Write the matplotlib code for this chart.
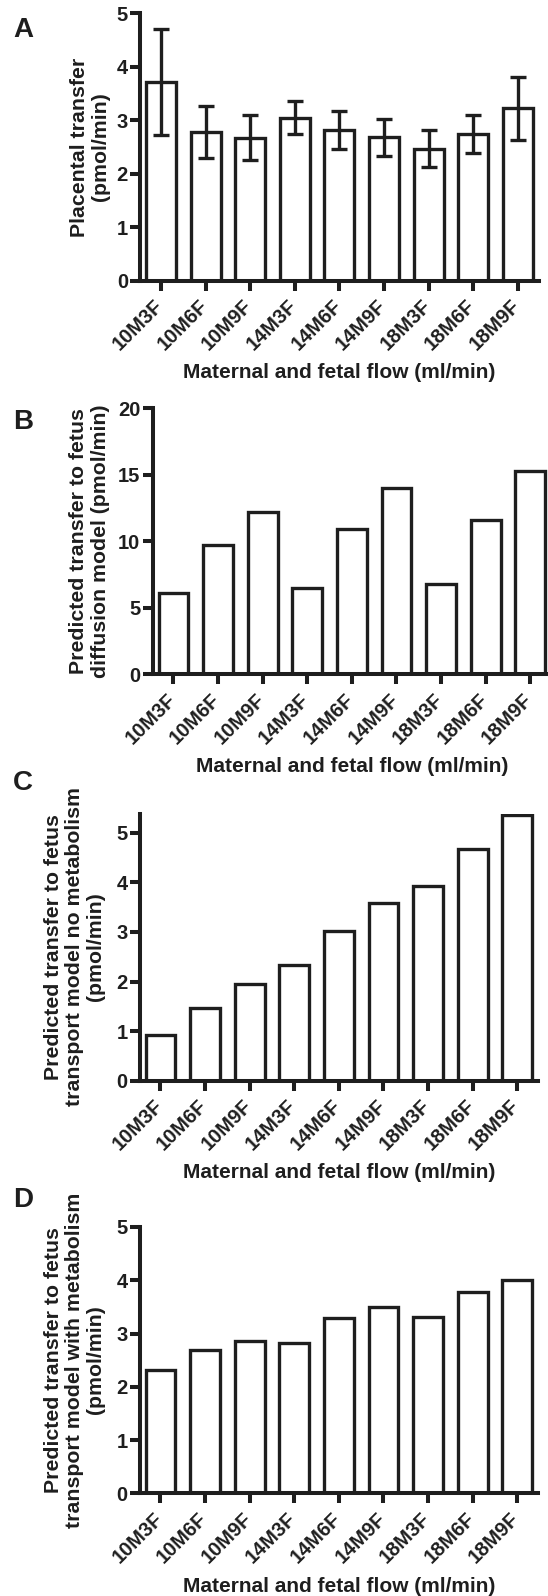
#!/usr/bin/env python3
"""Four stacked bar panels: placental transfer vs maternal/fetal flow."""

import matplotlib

matplotlib.use("Agg")
import matplotlib.pyplot as plt
import matplotlib.transforms as mtransforms

categories = ["10M3F", "10M6F", "10M9F", "14M3F", "14M6F", "14M9F", "18M3F", "18M6F", "18M9F"]

placental_mean = [3.72, 2.78, 2.67, 3.05, 2.82, 2.68, 2.47, 2.74, 3.22]
placental_err = [0.99, 0.48, 0.42, 0.31, 0.35, 0.34, 0.35, 0.36, 0.59]
diffusion_model = [6.1, 9.75, 12.2, 6.5, 10.9, 14.0, 6.8, 11.6, 15.3]
transport_no_met = [0.93, 1.46, 1.96, 2.34, 3.01, 3.58, 3.92, 4.68, 5.35]
transport_with_met = [2.31, 2.69, 2.86, 2.82, 3.29, 3.50, 3.31, 3.78, 4.01]

xlabel = "Maternal and fetal flow (ml/min)"
ylabels = [
    "Placental transfer\n(pmol/min)",
    "Predicted transfer to fetus\ndiffusion model (pmol/min)",
    "Predicted transfer to fetus\ntransport model no metabolism\n(pmol/min)",
    "Predicted transfer to fetus\ntransport model with metabolism\n(pmol/min)",
]
letters = ["A", "B", "C", "D"]

W, H = 548, 1596
INK = "#1e1e1e"

plt.rcParams["font.family"] = ["Liberation Sans", "DejaVu Sans"]
plt.rcParams["font.weight"] = "bold"

fig = plt.figure(figsize=(W / 100, H / 100), dpi=100)

XLO, XHI = -0.47, 8.47
STEP = 44.6  # px per category


def fx(x):
    return x / W


def fy(y):
    return 1 - y / H


# (left px, top px, zero px, ymax, yticks, values, errors, ylabel pos, xlabel y, letter y)
panels = [
    (140.0, 13.3, 280.7, 5, [0, 1, 2, 3, 4, 5], placental_mean, placental_err, (90, 147), 372, 30),
    (152.5, 408.3, 674.3, 20, [0, 5, 10, 15, 20], diffusion_model, None, (89.6, 541), 767, 422),
    (139.5, 814.0, 1080.7, 5.38, [0, 1, 2, 3, 4, 5], transport_no_met, None, (74.7, 947), 1172, 783),
    (139.5, 1227.0, 1493.3, 5, [0, 1, 2, 3, 4, 5], transport_with_met, None, (74.5, 1360), 1586, 1200),
]

x = list(range(len(categories)))
shift = mtransforms.ScaledTranslation(0.06, 0, fig.dpi_scale_trans)

for i, (left, top, zero, ymax, yt, vals, errs, ylpos, xly, lety) in enumerate(panels):
    width_px = (XHI - XLO) * STEP
    ax = fig.add_axes([fx(left), fy(zero), width_px / W, (zero - top) / H])
    ax.bar(x, vals, width=0.67, color="white", edgecolor=INK, linewidth=2.4, zorder=2)
    if errs is not None:
        ax.errorbar(x, vals, yerr=errs, fmt="none", ecolor=INK, elinewidth=2.4,
                    capsize=6, capthick=2.4, zorder=3)
    ax.set_xlim(XLO, XHI)
    ax.set_ylim(0, ymax)
    ax.set_yticks(yt)
    ax.set_xticks(x)
    ax.set_xticklabels(categories, rotation=45, ha="right", va="top")
    for s in ("top", "right"):
        ax.spines[s].set_visible(False)
    for s in ("left", "bottom"):
        ax.spines[s].set_linewidth(2.9)
        ax.spines[s].set_color(INK)
        ax.spines[s].set_zorder(4)
    ax.tick_params(axis="both", direction="out", length=7.2, width=2.9, color=INK,
                   labelsize=14.5, labelcolor=INK)
    ax.tick_params(axis="y", pad=1.5)
    ax.tick_params(axis="x", pad=4)
    for lab in ax.get_xticklabels():
        lab.set_transform(lab.get_transform() + shift)
    for lab in ax.get_xticklabels() + ax.get_yticklabels():
        lab.set_fontweight("bold")

    fig.text(fx(ylpos[0]), fy(ylpos[1]), ylabels[i], rotation=90, ha="center", va="center",
             multialignment="center", fontsize=15.3, fontweight="bold", color=INK,
             linespacing=1.15)
    cx = left + (0 - XLO + 4) * STEP
    fig.text(fx(cx), fy(xly), xlabel, ha="center", va="center", fontsize=15,
             fontweight="bold", color=INK)
    fig.text(fx(23), fy(lety), letters[i], ha="center", va="center", fontsize=20,
             fontweight="bold", color=INK)

fig.savefig("out.png", dpi=100)
